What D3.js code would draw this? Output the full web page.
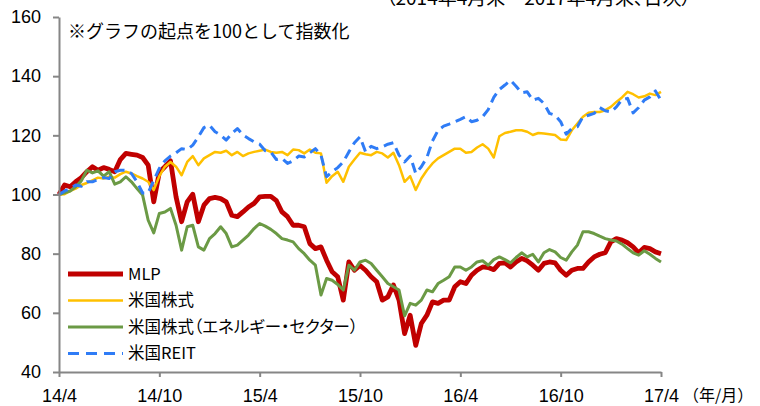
<!DOCTYPE html>
<head>
  <meta charset="utf-8">
  <script src="https://cdn.jsdelivr.net/npm/d3@7"></script>
  <style>
    body { margin:0; background:#fff; }
    text { font-family: "Liberation Sans", "Noto Sans CJK JP", sans-serif; fill:#000; }
    .jp { font-family: "Noto Sans CJK JP", sans-serif; font-feature-settings: "palt"; }
  </style>
</head>
<body>
<script>

/* Data */
/* ==== */

// x axis: months since end of Apr 2014, one value every 1/3 month
var tickMonths = [0, 6, 12, 18, 24, 30, 36];
var tickLabels = ['14/4', '14/10', '15/4', '15/10', '16/4', '16/10', '17/4'];
var yTicks = [40, 60, 80, 100, 120, 140, 160];
var seriesNames = ['MLP', '米国株式', '米国株式（エネルギー・セクター）', '米国REIT'];

var mlp = [
  100, 103.2, 102.6, 104.3, 105.7, 107.7, 109.4, 108.2, 109.1, 108.5,
  107.7, 111.8, 113.9, 113.6, 113.3, 112.5, 109.9, 97.5, 107.5,
  109.4, 111.4, 99.2, 90.8, 97.5, 100.1, 90.8, 96.4, 98.6, 99, 98.6, 97.5, 93, 92.5, 94.1, 95.8, 97, 99.2,
  99.4, 99.4, 97.9, 94.1, 92.5, 89.6, 89.6, 89.1, 83.4, 81.7, 82.3, 77.8, 73.9, 72.2, 64.3, 77.2, 74.4, 76,
  74.4, 72.2, 70.5, 64.3, 65.4, 69.4, 64.3, 53, 59.2, 49, 56.4, 59.2, 63.7, 63.2, 64.3, 64.3, 68.8, 70.5,
  69.9, 72.7, 74.4, 75.5, 75.3, 74.6, 76.7, 76.9, 75.5, 77.2, 78.4, 77.6, 76.1, 74.4, 76.7, 77.2, 76.9, 74.4,
  72.7, 74.4, 75, 75, 77.2, 78.9, 79.8, 80.3, 84, 85.1, 84.6, 83.7, 82.3, 80.3, 82.1, 81.7, 80.6, 80
];

var usStocks = [
  100, 100.1, 101.2, 102, 103.2, 103.9, 104.8, 105.7, 105.4, 106,
  105.7, 106.9, 107.7, 107.1, 106.2, 105.4, 104.3, 101.5, 106.2,
  109.4, 111, 109.4, 106.5, 111, 113, 109.9, 112.2, 113.3, 114.4, 114.1, 114.8, 113.3, 114.4, 113, 113.9, 114.4, 114.8,
  115.2, 114.4, 114.1, 114.4, 113.3, 115.2, 115, 113.9, 115.2, 114.1, 113.9, 104, 106.2, 107.7, 104.3, 109.4, 111.8, 114.1,
  113.6, 113.3, 114.4, 113.9, 112.5, 114.1, 109.9, 104.3, 106.2, 101.5, 105.4, 108.2, 110.5, 112.2, 113.3, 114.4, 115.5, 115.5,
  114.1, 114.4, 115.9, 117, 115.5, 112.5, 119.7, 120.8, 121.2, 121.7, 121.7, 121.2, 120.1, 120.8, 120.6, 120.4, 120.1, 118.6,
  118.4, 121.7, 124, 126.3, 127.6, 127.9, 127.9, 128.5, 129.6, 131.3, 132.8, 134.7, 133.9, 132.8, 133.2, 134.1, 133.6, 134.7
];

var energy = [
  100, 100.6, 101.2, 102.6, 104.6, 108.2, 107.3, 108, 106.2, 107.7,
  103.5, 104.3, 106, 104.3, 102, 99.8, 91.3, 87, 93.6,
  94.1, 95.3, 89.6, 81.2, 89.1, 89.6, 82.3, 81.2, 85.1, 86.8, 89.1, 86.8, 82.3, 82.9, 84.6, 86.3, 88.5, 90.2,
  89.3, 88.2, 86.8, 85.1, 84.6, 84, 81.7, 80, 77.8, 76.1, 66, 71.6, 71, 69.6, 67.7, 76.1, 74.4, 77.2,
  77.8, 76.7, 74.4, 72.2, 69.9, 68.8, 67.7, 59, 63.2, 62.6, 64.3, 67.7, 67.1, 69.9, 71, 72.2, 75.5, 75.5,
  74.4, 75.5, 77.2, 77.6, 76.1, 78, 78.9, 78, 76.9, 78.7, 80.3, 78.9, 79.8, 77.2, 80.3, 81.4, 80.6, 78.7,
  77.8, 80.6, 82.9, 87.4, 87.4, 86.8, 85.9, 85.1, 84.6, 84.3, 83.2, 81.7, 80.3, 79.5, 81, 79.8, 78.4, 77.2
];

var reit = [
  100, 101.2, 102, 103.2, 102.8, 104.3, 104.3, 105.1, 105.7, 105.4,
  107.7, 108.2, 108.2, 107.1, 104.3, 100.5, 100.6, 104.8, 108.8,
  111.4, 113, 114.1, 115.5, 115.2, 116.7, 119.5, 122.6, 123.4, 121.2, 120.1, 118.4, 120.6, 122.3, 120.1, 118.9, 117.8, 117,
  114.8, 114.4, 111.8, 112.2, 110.5, 111.4, 113, 112.7, 114.1, 115.5, 113.3, 106, 107.7, 109.1, 111, 114.4, 117.5, 119.5,
  114.4, 116.3, 115.5, 116.1, 117, 117.5, 113.3, 111, 113, 107.1, 109.4, 112.5, 118.1, 121.7, 123.1, 123.8, 124.6, 125.4,
  126.3, 124.6, 125.1, 126.3, 128.7, 132.8, 135.5, 137, 138.6, 136.6, 134.4, 134.7, 131.9, 132.5, 130.8, 127.4, 126.8, 124.6,
  120.4, 122.3, 122.9, 126.3, 126.8, 127.4, 129.4, 128.3, 127.9, 129.6, 132.1, 132.5, 127.6, 129.4, 131.9, 133, 135, 131.9
];

var step = 1 / 3; // months between values


/* Set up */
/* ====== */

var width = 760, height = 406;

var svg = d3.select('body').append('svg')
    .attr('width', width)
    .attr('height', height);

var x = d3.scaleLinear().domain([0, 36]).range([59, 661]);
var y = d3.scaleLinear().domain([40, 160]).range([372, 17]);

var series = [
  { name: seriesNames[0], values: mlp,      color: '#c00000', width: 4.8, dash: null },
  { name: seriesNames[1], values: usStocks, color: '#ffc000', width: 2.5, dash: null },
  { name: seriesNames[2], values: energy,   color: '#6b9a45', width: 3,   dash: null },
  { name: seriesNames[3], values: reit,     color: '#2f7cf6', width: 3,   dash: '10,6' }
];

var line = d3.line()
    .x(function(d, i) { return x(i * step); })
    .y(function(d) { return y(d); });


/* Lines */
/* ===== */

svg.selectAll('.series')
    .data(series)
    .enter().append('path')
    .attr('class', 'series')
    .attr('d', function(d) { return line(d.values); })
    .attr('fill', 'none')
    .attr('stroke', function(d) { return d.color; })
    .attr('stroke-width', function(d) { return d.width; })
    .attr('stroke-dasharray', function(d) { return d.dash; })
    .attr('stroke-linejoin', 'round');


/* Axes */
/* ==== */

var xAxis = svg.append('g')
    .attr('transform', 'translate(0,' + y(40) + ')')
    .call(d3.axisBottom(x).tickValues(tickMonths)
      .tickFormat(function(d, i) { return tickLabels[i]; })
      .tickSizeInner(5).tickSizeOuter(0).tickPadding(12));

var yAxis = svg.append('g')
    .attr('transform', 'translate(' + x(0) + ',0)')
    .call(d3.axisLeft(y).tickValues(yTicks)
      .tickSizeInner(6).tickSizeOuter(0).tickPadding(12));

[xAxis, yAxis].forEach(function(g) {
  g.select('.domain').attr('stroke', '#868686').attr('stroke-width', 2);
  g.selectAll('.tick line').attr('stroke', '#868686').attr('stroke-width', 2);
  g.selectAll('.tick text').attr('font-size', 18).attr('fill', '#000')
    .style('font-family', '"Liberation Sans", sans-serif');
});

svg.append('text')
    .attr('x', 683).attr('y', 401)
    .attr('font-size', 16)
    .style('font-family', '"Noto Sans CJK JP", sans-serif')
    .text('（年/月）');


/* Notes */
/* ===== */

svg.append('text')
    .attr('x', 68).attr('y', 38)
    .attr('font-size', 18)
    .style('font-family', '"Noto Sans CJK JP", sans-serif')
    .text('※グラフの起点を100として指数化');

svg.append('text')
    .attr('class', 'jp')
    .attr('x', 386).attr('y', 5)
    .attr('font-size', 19)
    .text('（2014年4月末～2017年4月末、日次）');


/* Legend */
/* ====== */

var legend = svg.selectAll('.legend')
    .data(series)
    .enter().append('g')
    .attr('class', 'legend')
    .attr('transform', function(d, i) { return 'translate(68,' + (274 + i * 26.5) + ')'; });

legend.append('line')
    .attr('x1', 0).attr('x2', 55)
    .attr('stroke', function(d) { return d.color; })
    .attr('stroke-width', function(d) { return d.width; })
    .attr('stroke-dasharray', function(d) { return d.dash ? '11,7' : null; });

legend.append('text')
    .attr('class', 'jp')
    .attr('x', 60).attr('dy', '0.36em')
    .attr('font-size', 16.5)
    .text(function(d) { return d.name; });

</script>
</body>
